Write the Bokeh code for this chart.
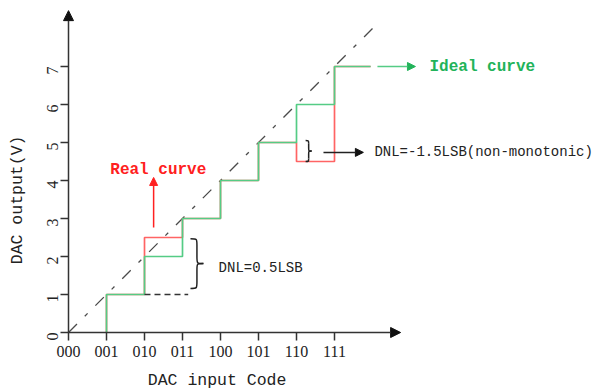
import math
from bokeh.plotting import figure
from bokeh.models import Range1d, FixedTicker, Arrow, NormalHead, Label
from bokeh.embed import file_html
from bokeh.resources import INLINE

# ---- data ----
codes = [0, 1, 2, 3, 4, 5, 6, 7]
code_labels = ["000", "001", "010", "011", "100", "101", "110", "111"]
volt_ticks = [0, 1, 2, 3, 4, 5, 6, 7]
ideal_out = [0, 1, 2, 3, 4, 5, 6, 7]
real_out = [0, 1, 2.5, 3, 4, 5, 4.5, 7]
last_step_end = 7.95
ideal_line_end = 8.0

FONT = "Liberation Mono"
TICK_FONT = "Liberation Serif"
GREEN = "#55cc85"
RED = "#ff6464"

W, H = 601, 390
ORIGIN_X, ORIGIN_Y = 68, 332  # pixel position of (0, 0)
UNIT = 38.0

p = figure(width=W, height=H, output_backend="svg", toolbar_location=None,
           min_border=0,
           x_range=Range1d(-ORIGIN_X / UNIT, (W - ORIGIN_X) / UNIT),
           y_range=Range1d(-(H - ORIGIN_Y) / UNIT, ORIGIN_Y / UNIT))
p.outline_line_color = None
p.grid.visible = False
p.background_fill_color = "white"
p.border_fill_color = "white"

for ax in (p.xaxis[0], p.yaxis[0]):
    ax.fixed_location = 0
    ax.axis_line_color = None
    ax.major_tick_in = 0
    ax.major_tick_out = 8
    ax.major_tick_line_color = "#333333"
    ax.major_tick_line_width = 1.5
    ax.minor_tick_line_color = None
    ax.major_label_text_font = TICK_FONT
    ax.major_label_text_font_size = "16px"
    ax.major_label_text_color = "#222222"

p.xaxis.ticker = FixedTicker(ticks=codes)
p.xaxis.major_label_overrides = {c: l for c, l in zip(codes, code_labels)}
p.xaxis.major_label_standoff = 5
p.yaxis.ticker = FixedTicker(ticks=volt_ticks)
p.yaxis.major_label_orientation = math.pi / 2
p.yaxis.major_label_standoff = 8


def step_path(levels, x_end):
    xs, ys = [], []
    for i in range(1, len(levels)):
        xs += [codes[i], codes[i]]
        ys += [levels[i - 1], levels[i]]
    xs.append(x_end)
    ys.append(levels[-1])
    return xs, ys


# ideal transfer line (dash-dot)
p.line([0, ideal_line_end], [0, ideal_line_end], line_color="#4a4a4a", line_width=1.3,
       line_dash="12 11 4 11")

# real (red) then ideal (green) staircase
rx, ry = step_path(real_out, last_step_end)
p.line(rx, ry, line_color=RED, line_width=1.7)
ix, iy = step_path(ideal_out, last_step_end)
p.line(ix, iy, line_color=GREEN, line_width=1.7)

# axes arrows
p.add_layout(Arrow(end=NormalHead(size=10, fill_color="#111111", line_color="#111111"),
                   x_start=0, y_start=0, x_end=8.74, y_end=0,
                   line_color="#333333", line_width=1.5))
p.add_layout(Arrow(end=NormalHead(size=10, fill_color="#111111", line_color="#111111"),
                   x_start=0, y_start=0, x_end=0, y_end=8.47,
                   line_color="#333333", line_width=1.5))

# DNL = 0.5 LSB annotation
p.line([codes[2], 3.15], [ideal_out[1], ideal_out[1]], line_color="#333333",
       line_width=1.5, line_dash="6 4")


def brace(x0, yb, yt, w):
    ym = (yb + yt) / 2
    xm = x0 + w / 2
    d = min(w / 2, (yt - yb) / 4)
    p.bezier(x0=[x0, xm, x0 + w, x0], y0=[yt, ym + d, ym, yb],
             x1=[xm, x0 + w, xm, xm], y1=[yt - d, ym, ym - d, yb + d],
             cx0=[xm, xm, xm, xm], cy0=[yt, ym, ym, yb],
             cx1=[xm, xm, xm, xm], cy1=[yt, ym, ym, yb],
             line_color="#222222", line_width=1.5)
    p.line([xm, xm], [yt - d, ym + d], line_color="#222222", line_width=1.5)
    p.line([xm, xm], [yb + d, ym - d], line_color="#222222", line_width=1.5)


brace(3.21, 1.16, 2.47, 0.34)
p.add_layout(Label(x=3.95, y=1.71, text="DNL=0.5LSB", text_font=FONT,
                   text_font_size="14px", text_baseline="middle", text_color="#222222"))

# DNL = -1.5 LSB annotation
brace(6.24, 4.5, 5.05, 0.16)
p.add_layout(Arrow(end=NormalHead(size=8, fill_color="#111111", line_color="#111111"),
                   x_start=6.71, y_start=4.74, x_end=7.76, y_end=4.74,
                   line_color="#222222", line_width=1.5))
p.add_layout(Label(x=8.05, y=4.74, text="DNL=-1.5LSB(non-monotonic)", text_font=FONT,
                   text_font_size="14px", text_baseline="middle", text_color="#222222"))

# Real curve label
p.add_layout(Arrow(end=NormalHead(size=8, fill_color="#ff2020", line_color="#ff2020"),
                   x_start=2.24, y_start=2.76, x_end=2.24, y_end=4.08,
                   line_color="#ff2020", line_width=1.5))
p.add_layout(Label(x=1.1, y=4.27, text="Real curve", text_font=FONT,
                   text_font_size="16px", text_font_style="bold", text_baseline="middle",
                   text_color="#ff2020"))

# Ideal curve label
p.add_layout(Arrow(end=NormalHead(size=8, fill_color="#22b35a", line_color="#22b35a"),
                   x_start=8.13, y_start=7, x_end=9.13, y_end=7,
                   line_color=GREEN, line_width=1.5))
p.add_layout(Label(x=9.5, y=7, text="Ideal curve", text_font=FONT,
                   text_font_size="16px", text_font_style="bold", text_baseline="middle",
                   text_color="#22b35a"))

# axis titles
p.add_layout(Label(x=3.91, y=-1.26, text="DAC input Code", text_font=FONT,
                   text_font_size="16.5px", text_align="center", text_baseline="middle",
                   text_color="#222222"))
p.add_layout(Label(x=-1.33, y=3.49, text="DAC output(V)", text_font=FONT,
                   text_font_size="16.5px", text_align="center", text_baseline="middle",
                   angle=math.pi / 2, text_color="#222222"))

open("out.html", "w").write(file_html(p, INLINE))
